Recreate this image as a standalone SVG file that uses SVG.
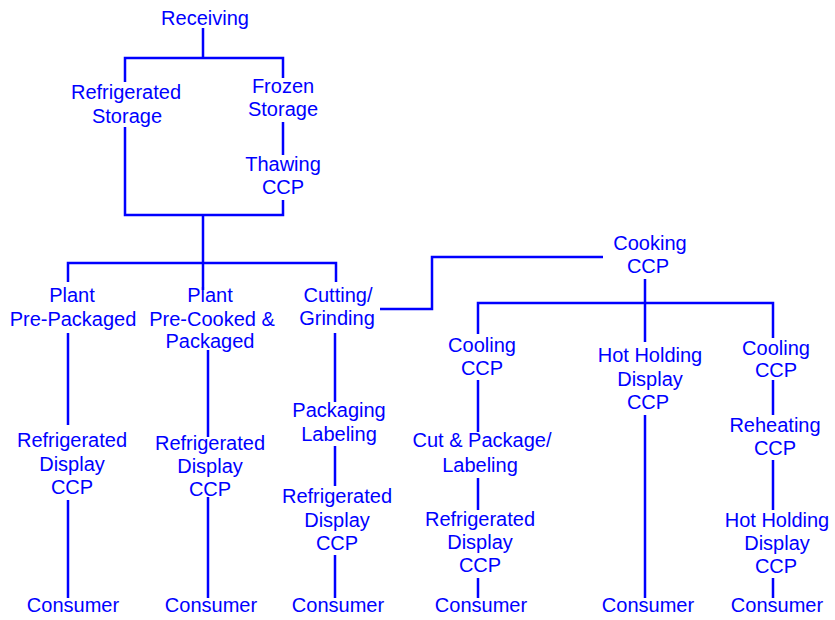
<svg xmlns="http://www.w3.org/2000/svg" width="835" height="620" viewBox="0 0 835 620">
<style>
text{font-family:"Liberation Sans",Arial,sans-serif;font-size:20px;fill:#0000ff;text-anchor:middle}
.c{stroke:#0000ff;stroke-width:2.5;fill:none}
</style>
<rect width="835" height="620" fill="#fff"/>
<g id="connectors">
<path class="c" d="M203 28V58M125 82V58H283V78"/>
<path class="c" d="M283 122V155M283 200V215H125V127M203 215V290"/>
<path class="c" d="M68 282V263H336V282"/>
<path class="c" d="M380 309H432V257H603"/>
<path class="c" d="M645 279V342M478 334V303H773V338"/>
<path class="c" d="M68 333V425M68 500V598"/>
<path class="c" d="M208 350V437M208 497V598"/>
<path class="c" d="M335 333V402M335 446V486M335 555V598"/>
<path class="c" d="M478 380V432M478 478V510M478 578V598"/>
<path class="c" d="M645 415V598"/>
<path class="c" d="M773 380V415M773 460V510M773 578V598"/>
</g>
<g id="receiving"><text x="205" y="25">Receiving</text></g>
<g id="refrigerated-storage"><text x="126" y="99">Refrigerated</text><text x="127" y="123">Storage</text></g>
<g id="frozen-storage"><text x="283" y="93">Frozen</text><text x="283" y="116">Storage</text></g>
<g id="thawing"><text x="283" y="171">Thawing</text><text x="283" y="194">CCP</text></g>
<g id="plant-prepackaged"><text x="72" y="302">Plant</text><text x="73" y="326">Pre-Packaged</text></g>
<g id="plant-precooked"><text x="210" y="302">Plant</text><text x="212" y="326">Pre-Cooked &amp;</text><text x="210" y="348">Packaged</text></g>
<g id="cutting"><text x="338" y="302">Cutting/</text><text x="337" y="325">Grinding</text></g>
<g id="cooking"><text x="650" y="250">Cooking</text><text x="648" y="273">CCP</text></g>
<g id="refdisplay1"><text x="72" y="447">Refrigerated</text><text x="72" y="471">Display</text><text x="72" y="494">CCP</text></g>
<g id="refdisplay2"><text x="210" y="450">Refrigerated</text><text x="210" y="473">Display</text><text x="210" y="496">CCP</text></g>
<g id="packaging"><text x="339" y="417">Packaging</text><text x="339" y="441">Labeling</text></g>
<g id="refdisplay3"><text x="337" y="503">Refrigerated</text><text x="337" y="527">Display</text><text x="337" y="550">CCP</text></g>
<g id="cooling1"><text x="482" y="352">Cooling</text><text x="482" y="375">CCP</text></g>
<g id="cutpackage"><text x="482" y="447">Cut &amp; Package/</text><text x="480" y="472">Labeling</text></g>
<g id="refdisplay4"><text x="480" y="526">Refrigerated</text><text x="480" y="549">Display</text><text x="480" y="572">CCP</text></g>
<g id="hotholding1"><text x="650" y="362">Hot Holding</text><text x="650" y="386">Display</text><text x="648" y="409">CCP</text></g>
<g id="cooling2"><text x="776" y="355">Cooling</text><text x="776" y="377">CCP</text></g>
<g id="reheating"><text x="775" y="432">Reheating</text><text x="775" y="455">CCP</text></g>
<g id="hotholding2"><text x="777" y="527">Hot Holding</text><text x="777" y="550">Display</text><text x="776" y="573">CCP</text></g>
<g id="consumer1"><text x="73" y="612">Consumer</text></g>
<g id="consumer2"><text x="211" y="612">Consumer</text></g>
<g id="consumer3"><text x="338" y="612">Consumer</text></g>
<g id="consumer4"><text x="481" y="612">Consumer</text></g>
<g id="consumer5"><text x="648" y="612">Consumer</text></g>
<g id="consumer6"><text x="777" y="612">Consumer</text></g>
</svg>
